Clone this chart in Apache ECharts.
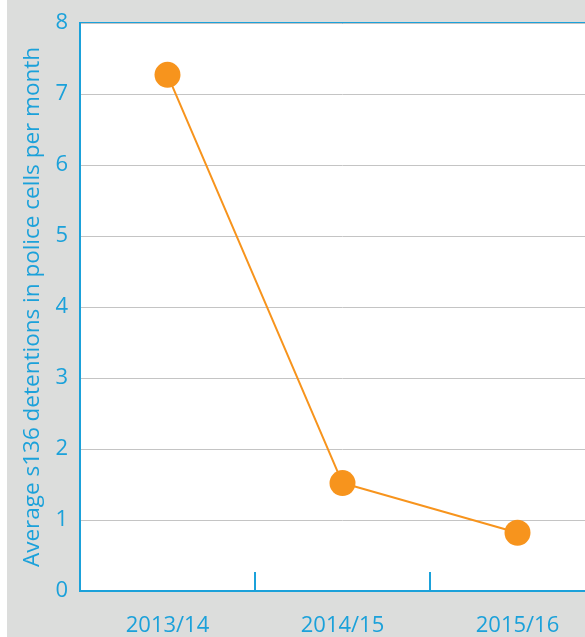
<!DOCTYPE html>
<html>
<head>
<meta charset="utf-8">
<script src="https://cdn.jsdelivr.net/npm/echarts@6/dist/echarts.min.js"></script>
<style>
  html, body { margin: 0; padding: 0; background: #fff; overflow: hidden; }
  #chart { position: absolute; left: 7px; top: 0; width: 620px; height: 637px; background: #dcdddc; }
</style>
</head>
<body>
<div id="chart"></div>
<script>
// 数据
const years = ['2013/14', '2014/15', '2015/16'];
const detentions = [7.27, 1.52, 0.82];
const yTicks = [0, 1, 2, 3, 4, 5, 6, 7, 8];

const blue = '#1ba1da';
const orange = '#f7941d';
const font = "'Open Sans', 'Noto Sans', sans-serif";

const chart = echarts.init(document.getElementById('chart'));
chart.setOption({
  animation: false,
  backgroundColor: '#dcdddc',
  grid: {
    left: 73,
    top: 23,
    right: 22,
    bottom: 46,
    show: true,
    backgroundColor: '#fff',
    borderColor: blue,
    borderWidth: 2
  },
  xAxis: {
    type: 'category',
    data: years,
    boundaryGap: true,
    axisLine: { lineStyle: { color: blue, width: 2 } },
    axisTick: { show: true, interval: 0, inside: true, length: 19, lineStyle: { color: blue, width: 2 } },
    axisLabel: { color: blue, fontSize: 22, fontFamily: font, margin: 24 }
  },
  yAxis: {
    type: 'value',
    min: yTicks[0],
    max: yTicks[yTicks.length - 1],
    interval: 1,
    name: 'Average s136 detentions in police cells per month',
    nameLocation: 'middle',
    nameGap: 33,
    nameTextStyle: { color: blue, fontSize: 22.5, fontFamily: font },
    axisLine: { show: true, lineStyle: { color: blue, width: 2 } },
    axisTick: { show: false },
    splitLine: { lineStyle: { color: '#c4c4c4', width: 1 } },
    axisLabel: {
      color: blue, fontSize: 22, fontFamily: font, margin: 12,
      padding: [0, 0, 4, 0]
    }
  },
  series: [{
    type: 'line',
    data: detentions,
    symbol: 'circle',
    symbolSize: 26,
    lineStyle: { color: orange, width: 2 },
    itemStyle: { color: orange }
  }]
});
</script>
</body>
</html>
